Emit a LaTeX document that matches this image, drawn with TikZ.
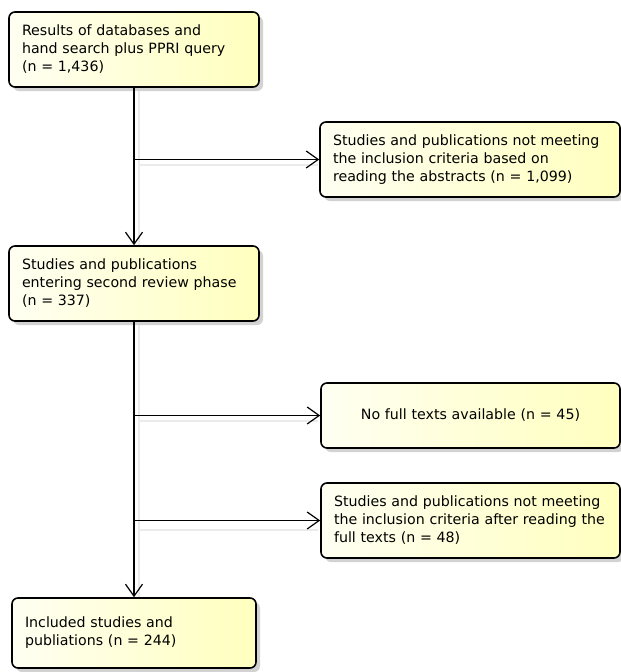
\documentclass[tikz,border=0pt]{standalone}
\usepackage{fontspec}
\setmainfont{DejaVu Sans}
\usetikzlibrary{arrows.meta,shadows,positioning}
\definecolor{boxL}{HTML}{FFFFF2}
\definecolor{boxR}{HTML}{FFFFBE}
\tikzset{
  flowbox/.style={draw=black, line width=1.6pt, rounded corners=6pt,
    left color=boxL, right color=boxR,
    drop shadow={shadow xshift=4pt, shadow yshift=-4pt, fill=black!25, opacity=0.7},
    align=left, inner xsep=13pt, inner ysep=0pt,
    font=\fontsize{14.2}{18}\selectfont, anchor=center},
  arr/.style={line width=1.2pt, -{Straight Barb[length=12pt,width=17pt,line width=1.2pt]}},
  shd/.style={line width=1.2pt, black!8}
}
\begin{document}
\begin{tikzpicture}[x=1pt,y=-1pt]
\useasboundingbox (0,0) rectangle (621,672);
% shadows of connectors
\draw[shd] (139,90) -- (139,246);
\draw[shd] (139,324) -- (139,598);
\draw[shd] (139,165) -- (318,165);
\draw[shd] (139,421) -- (318,421);
\draw[shd] (139,530) -- (318,530);
% boxes
\node[flowbox, minimum width=250pt, minimum height=75pt, text width=224pt] (b1) at (134,49.5)
  {Results of databases and\\hand search plus PPRI query\\(n = 1,436)};
\node[flowbox, minimum width=300pt, minimum height=75pt, text width=274pt] (r1) at (470,159.5)
  {Studies and publications not meeting\\the inclusion criteria based on\\reading the abstracts (n = 1,099)};
\node[flowbox, minimum width=250pt, minimum height=75pt, text width=224pt] (b2) at (134,283.5)
  {Studies and publications\\entering second review phase\\(n = 337)};
\node[flowbox, minimum width=299pt, minimum height=65pt, text width=273pt, align=center] (r2) at (470.5,415.5)
  {No full texts available (n = 45)};
\node[flowbox, minimum width=299pt, minimum height=75pt, text width=273pt] (r3) at (470.5,520.5)
  {Studies and publications not meeting\\the inclusion criteria after reading the\\full texts (n = 48)};
\node[flowbox, minimum width=244pt, minimum height=70pt, text width=218pt] (b3) at (134,633)
  {Included studies and\\publiations (n = 244)};
% connectors
\coordinate (j1) at (b1.south |- r1.west);
\coordinate (j2) at (b2.south |- r2.west);
\coordinate (j3) at (b2.south |- r3.west);
\draw[arr] (b1.south) -- (b2.north);
\draw[arr] (j1) -- (r1.west);
\draw[arr] (b2.south) -- (b3.north);
\draw[arr] (j2) -- (r2.west);
\draw[arr] (j3) -- (r3.west);
\end{tikzpicture}
\end{document}
